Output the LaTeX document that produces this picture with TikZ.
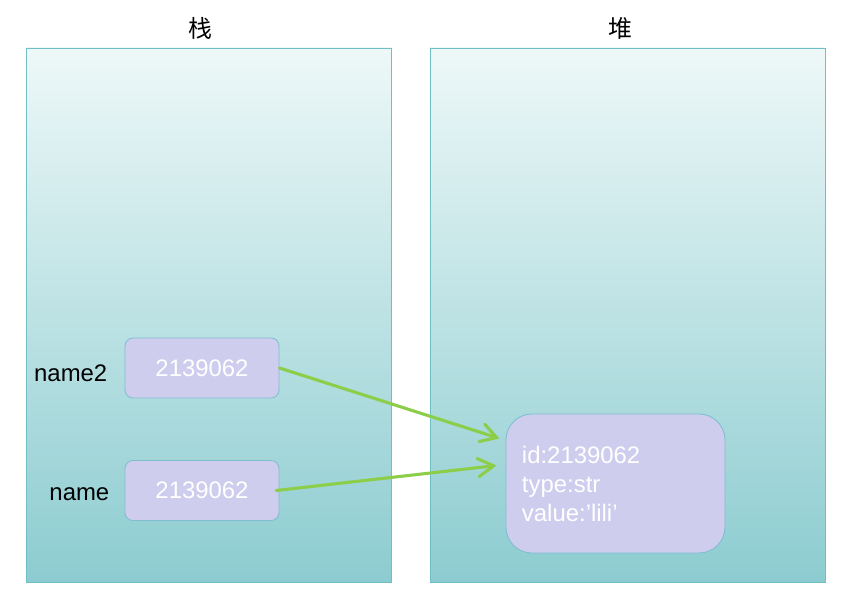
\documentclass[tikz,border=0pt]{standalone}
\usepackage{fontspec}
\setmainfont{Liberation Sans}
\newfontfamily\cjk{Noto Sans CJK SC}
\usetikzlibrary{arrows.meta}

\definecolor{panelline}{RGB}{112,190,198}
\definecolor{paneltop}{RGB}{238,248,248}
\definecolor{panelbot}{RGB}{140,204,208}
\definecolor{cellfill}{RGB}{207,205,238}
\definecolor{cellline}{RGB}{126,190,208}
\definecolor{ptrgreen}{RGB}{140,206,74}

\tikzset{
  panel/.style={draw=panelline, line width=0.6pt, top color=paneltop, bottom color=panelbot},
  cell/.style={draw=cellline, fill=cellfill, line width=0.6pt, rounded corners=0.2cm,
    minimum width=3.85cm, minimum height=1.5cm, text=white, font=\fontsize{17}{20}\selectfont},
  heapobj/.style={draw=cellline, fill=cellfill, line width=0.6pt, rounded corners=0.65cm,
    minimum height=3.475cm, text width=4.675cm, inner xsep=0.4cm, align=left,
    text=white, font=\fontsize{17}{20.6}\selectfont},
  varname/.style={inner sep=0pt, font=\fontsize{17}{20}\selectfont},
  title/.style={font=\cjk\fontsize{17}{20}\selectfont},
  pointer/.style={ptrgreen, line width=2.2pt, line cap=round,
    -{Straight Barb[length=11pt,width=13pt,line cap=round]}}
}

\begin{document}
\begin{tikzpicture}[x=0.025cm,y=-0.025cm]
\useasboundingbox (0,0) rectangle (848,602);

% stack and heap areas
\draw[panel] (26,48) rectangle (391,582);
\draw[panel] (430,48) rectangle (825,582);
\node[title] (stacktitle) at (200,28) {栈};
\node[title] (heaptitle) at (620,28) {堆};

% references on the stack
\node[cell] (n2cell) at (202,368) {2139062};
\node[cell] (ncell) at (202,490.5) {2139062};
\node[varname, anchor=east] (n2lbl) at ([shift={(-17,5)}]n2cell.west) {name2};
\node[varname, anchor=east] (nlbl) at ([shift={(-15,4)}]ncell.west) {name};

% object on the heap
\node[heapobj] (obj) at (615.5,483.5) {id:2139062\\type:str\\value:'lili'};

% pointers
\draw[pointer] (n2cell.east) -- ([shift={(-6,-45)}]obj.west);
\draw[pointer] ([xshift=-0.08cm]ncell.east) -- ([shift={(-9,-18)}]obj.west);

\end{tikzpicture}
\end{document}
